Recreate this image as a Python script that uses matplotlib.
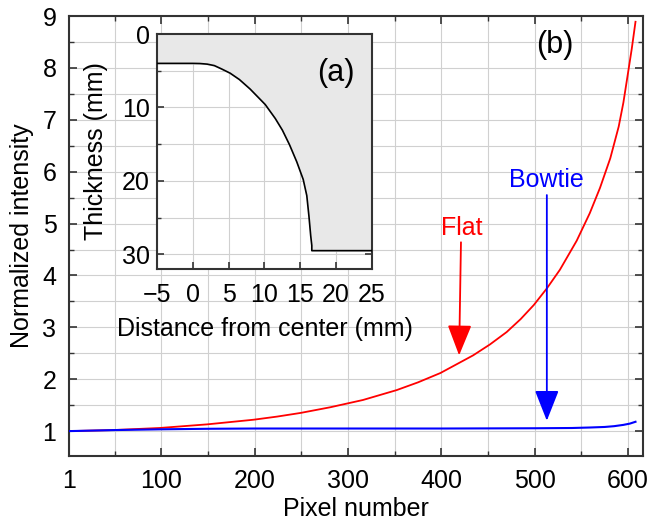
import numpy as np
import matplotlib
matplotlib.use("Agg")
import matplotlib.pyplot as plt
from matplotlib.ticker import MultipleLocator

plt.rcParams['font.family'] = ['Liberation Sans', 'DejaVu Sans']

# --- main panel (b): normalized intensity vs pixel number ---
flat_px = [1, 48, 98, 149, 199, 224, 249, 281, 316, 352, 375, 399, 434, 452, 470, 485, 499,
           513, 527, 545, 559, 570, 581, 590, 595, 599, 604, 608]
flat_val = [1.0, 1.02, 1.06, 1.13, 1.22, 1.28, 1.35, 1.46, 1.60, 1.79, 1.94, 2.12, 2.46,
            2.67, 2.91, 3.16, 3.43, 3.75, 4.11, 4.67, 5.20, 5.69, 6.26, 6.87, 7.33, 7.79,
            8.37, 8.89]
bowtie_px = [1, 50, 100, 150, 200, 300, 400, 500, 540, 560, 575, 585, 595, 602, 608]
bowtie_val = [1.0, 1.02, 1.035, 1.045, 1.05, 1.05, 1.05, 1.055, 1.06, 1.07, 1.08, 1.095,
              1.12, 1.145, 1.18]
x_ticks = [1, 100, 200, 300, 400, 500, 600]
y_ticks = [1, 2, 3, 4, 5, 6, 7, 8, 9]

# --- inset (a): bowtie filter thickness profile ---
dist_mm = [-5, 0, 1, 2, 3, 4, 5.2, 6.5, 8, 9, 10.1, 11.5, 12.5, 13.5, 14.5, 15.4, 15.9,
           16.2, 16.45, 16.6, 16.6, 25]
thick_mm = [4.0, 4.0, 4.02, 4.1, 4.3, 4.75, 5.33, 6.2, 7.5, 8.5, 9.6, 11.5, 13.1, 15.1,
            17.4, 19.8, 22.0, 24.8, 27.5, 28.8, 29.5, 29.5]

spine_col = '#333333'
grid_col = '#d0d0d0'
fs = 18

fig = plt.figure(figsize=(6.49, 5.25), dpi=100)
ax = fig.add_axes([0.1063, 0.1314, 0.8844, 0.838])

ax.plot(flat_px, flat_val, color='red', lw=1.3, zorder=3)
ax.plot(bowtie_px, bowtie_val, color='blue', lw=1.5, zorder=3)

ax.set_xlim(1, 616)
ax.set_ylim(0.52, 9)
ax.set_xticks(x_ticks)
ax.set_yticks(y_ticks)
ax.xaxis.set_minor_locator(MultipleLocator(50))
ax.yaxis.set_minor_locator(MultipleLocator(0.5))
ax.grid(True, which='both', color=grid_col, lw=0.8)
ax.set_axisbelow(True)
ax.tick_params(which='both', direction='in', top=True, right=True, colors=spine_col,
               labelcolor='black', labelsize=fs)
ax.tick_params(which='major', length=6, width=1.2)
ax.tick_params(which='minor', length=3.5, width=1.0)
ax.tick_params(axis='x', which='major', pad=9)
ax.tick_params(axis='y', which='major', pad=9)
for s in ax.spines.values():
    s.set_color(spine_col)
    s.set_linewidth(1.5)
ax.set_xlabel('Pixel number', fontsize=fs, labelpad=3)
ax.set_ylabel('Normalized intensity', fontsize=fs, labelpad=6)

# arrows and labels
head = '-|>,head_length=1.9,head_width=0.75'
ax.annotate('', xy=(419, 2.46), xytext=(421, 4.64),
            arrowprops=dict(arrowstyle=head, color='red', lw=1.3, shrinkA=0, shrinkB=0))
ax.text(422, 4.91, 'Flat', color='red', fontsize=fs, ha='center', va='center')
ax.annotate('', xy=(513, 1.2), xytext=(513, 5.55),
            arrowprops=dict(arrowstyle=head, color='blue', lw=1.3, shrinkA=0, shrinkB=0))
ax.text(513, 5.84, 'Bowtie', color='blue', fontsize=fs, ha='center', va='center')
ax.text(522, 8.44, '(b)', fontsize=22, ha='center', va='center')

# inset
ins = fig.add_axes([0.2419, 0.4876, 0.3313, 0.4476])
ins.fill_between(dist_mm, 0, thick_mm, color='#e8e8e8', zorder=2)
ins.plot(dist_mm, thick_mm, color='black', lw=1.2, zorder=3)
ins.set_xlim(-5, 25)
ins.set_ylim(32, 0)
ins.set_xticks(range(-5, 26, 5))
ins.set_yticks([0, 10, 20, 30])
ins.yaxis.set_minor_locator(MultipleLocator(5))
ins.grid(True, which='both', color=grid_col, lw=0.8)
ins.set_axisbelow(True)
ins.tick_params(which='both', direction='in', top=True, right=True, colors=spine_col,
                labelcolor='black', labelsize=fs)
ins.tick_params(which='major', length=5, width=1.2)
ins.tick_params(which='minor', length=3, width=1.0)
ins.tick_params(axis='x', which='major', pad=10)
ins.tick_params(axis='y', which='major', pad=5)
for s in ins.spines.values():
    s.set_color(spine_col)
    s.set_linewidth(1.5)
ins.set_xlabel('Distance from center (mm)', fontsize=fs, labelpad=7)
ins.set_ylabel('Thickness (mm)', fontsize=fs, labelpad=10)
ins.text(20, 5.3, '(a)', fontsize=22, ha='center', va='center')

fig.savefig('out.png', dpi=100)
